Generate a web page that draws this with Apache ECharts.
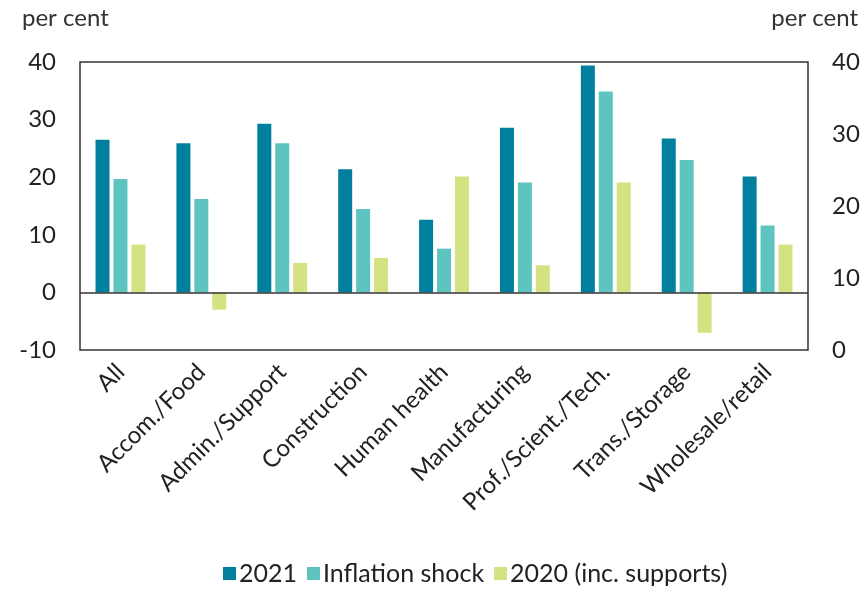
<!DOCTYPE html>
<html><head><meta charset="utf-8">
<script src="https://cdn.jsdelivr.net/npm/echarts@6/dist/echarts.min.js"></script>
<style>html,body{margin:0;padding:0;background:#fff}#c{width:866px;height:593px}</style>
</head><body><div id="c"></div>
<script>
const categories = ['All','Accom./Food','Admin./Support','Construction','Human health','Manufacturing','Prof./Scient./Tech.','Trans./Storage','Wholesale/retail'];
const s2021 = [26.5, 25.9, 29.3, 21.4, 12.6, 28.6, 39.4, 26.7, 20.1];
const sInflation = [19.7, 16.2, 25.9, 14.5, 7.6, 19.1, 34.9, 23.0, 11.6];
const s2020 = [8.3, -3.0, 5.1, 6.0, 20.1, 4.7, 19.1, -7.0, 8.3];
const leftTicks = {min:-10, max:40, interval:10};
const rightTicks = {min:0, max:40, interval:10};

const font = 'Lato, "Open Sans", sans-serif';
const chart = echarts.init(document.getElementById('c'));
chart.setOption({
  animation:false,
  grid:{left:80, right:58, top:62, bottom:243, show:true, borderColor:'#333', borderWidth:1.5, backgroundColor:'transparent'},
  graphic:[
    {type:'text', left:22, top:6, style:{text:'per cent', fontFamily:font, fontSize:24, fill:'#333'}},
    {type:'text', right:8, top:6, style:{text:'per cent', fontFamily:font, fontSize:24, fill:'#333'}}
  ],
  legend:{bottom:2, left:218, itemWidth:13, itemHeight:13, itemGap:10, icon:'rect',
    textStyle:{fontFamily:font, fontSize:25, color:'#222', padding:[0,0,0,-2]},
    data:['2021','Inflation shock','2020 (inc. supports)']},
  xAxis:{type:'category', data:categories, axisLine:{show:false, onZero:false}, axisTick:{show:false},
    axisLabel:{rotate:45, interval:0, fontFamily:font, fontSize:24, color:'#222', margin:18}},
  yAxis:[
    {type:'value', min:leftTicks.min, max:leftTicks.max, interval:leftTicks.interval, axisLine:{show:false}, axisTick:{show:false}, splitLine:{show:false},
      axisLabel:{fontFamily:font, fontSize:24, color:'#222', margin:24}},
    {type:'value', position:'right', min:rightTicks.min, max:rightTicks.max, interval:rightTicks.interval, axisLine:{show:false}, axisTick:{show:false}, splitLine:{show:false},
      axisLabel:{fontFamily:font, fontSize:24, color:'#222', margin:24}}
  ],
  series:[
    {name:'2021', type:'bar', data:s2021, barWidth:14, barGap:'28%', itemStyle:{color:'#00809e'},
      markLine:{silent:true, symbol:'none', label:{show:false}, lineStyle:{color:'#333', type:'solid', width:1.5}, data:[{yAxis:0}]}},
    {name:'Inflation shock', type:'bar', data:sInflation, barWidth:14, barGap:'28%', itemStyle:{color:'#5ec4c0'}},
    {name:'2020 (inc. supports)', type:'bar', data:s2020, barWidth:14, barGap:'28%', itemStyle:{color:'#d5e282'}}
  ]
});
</script></body></html>
